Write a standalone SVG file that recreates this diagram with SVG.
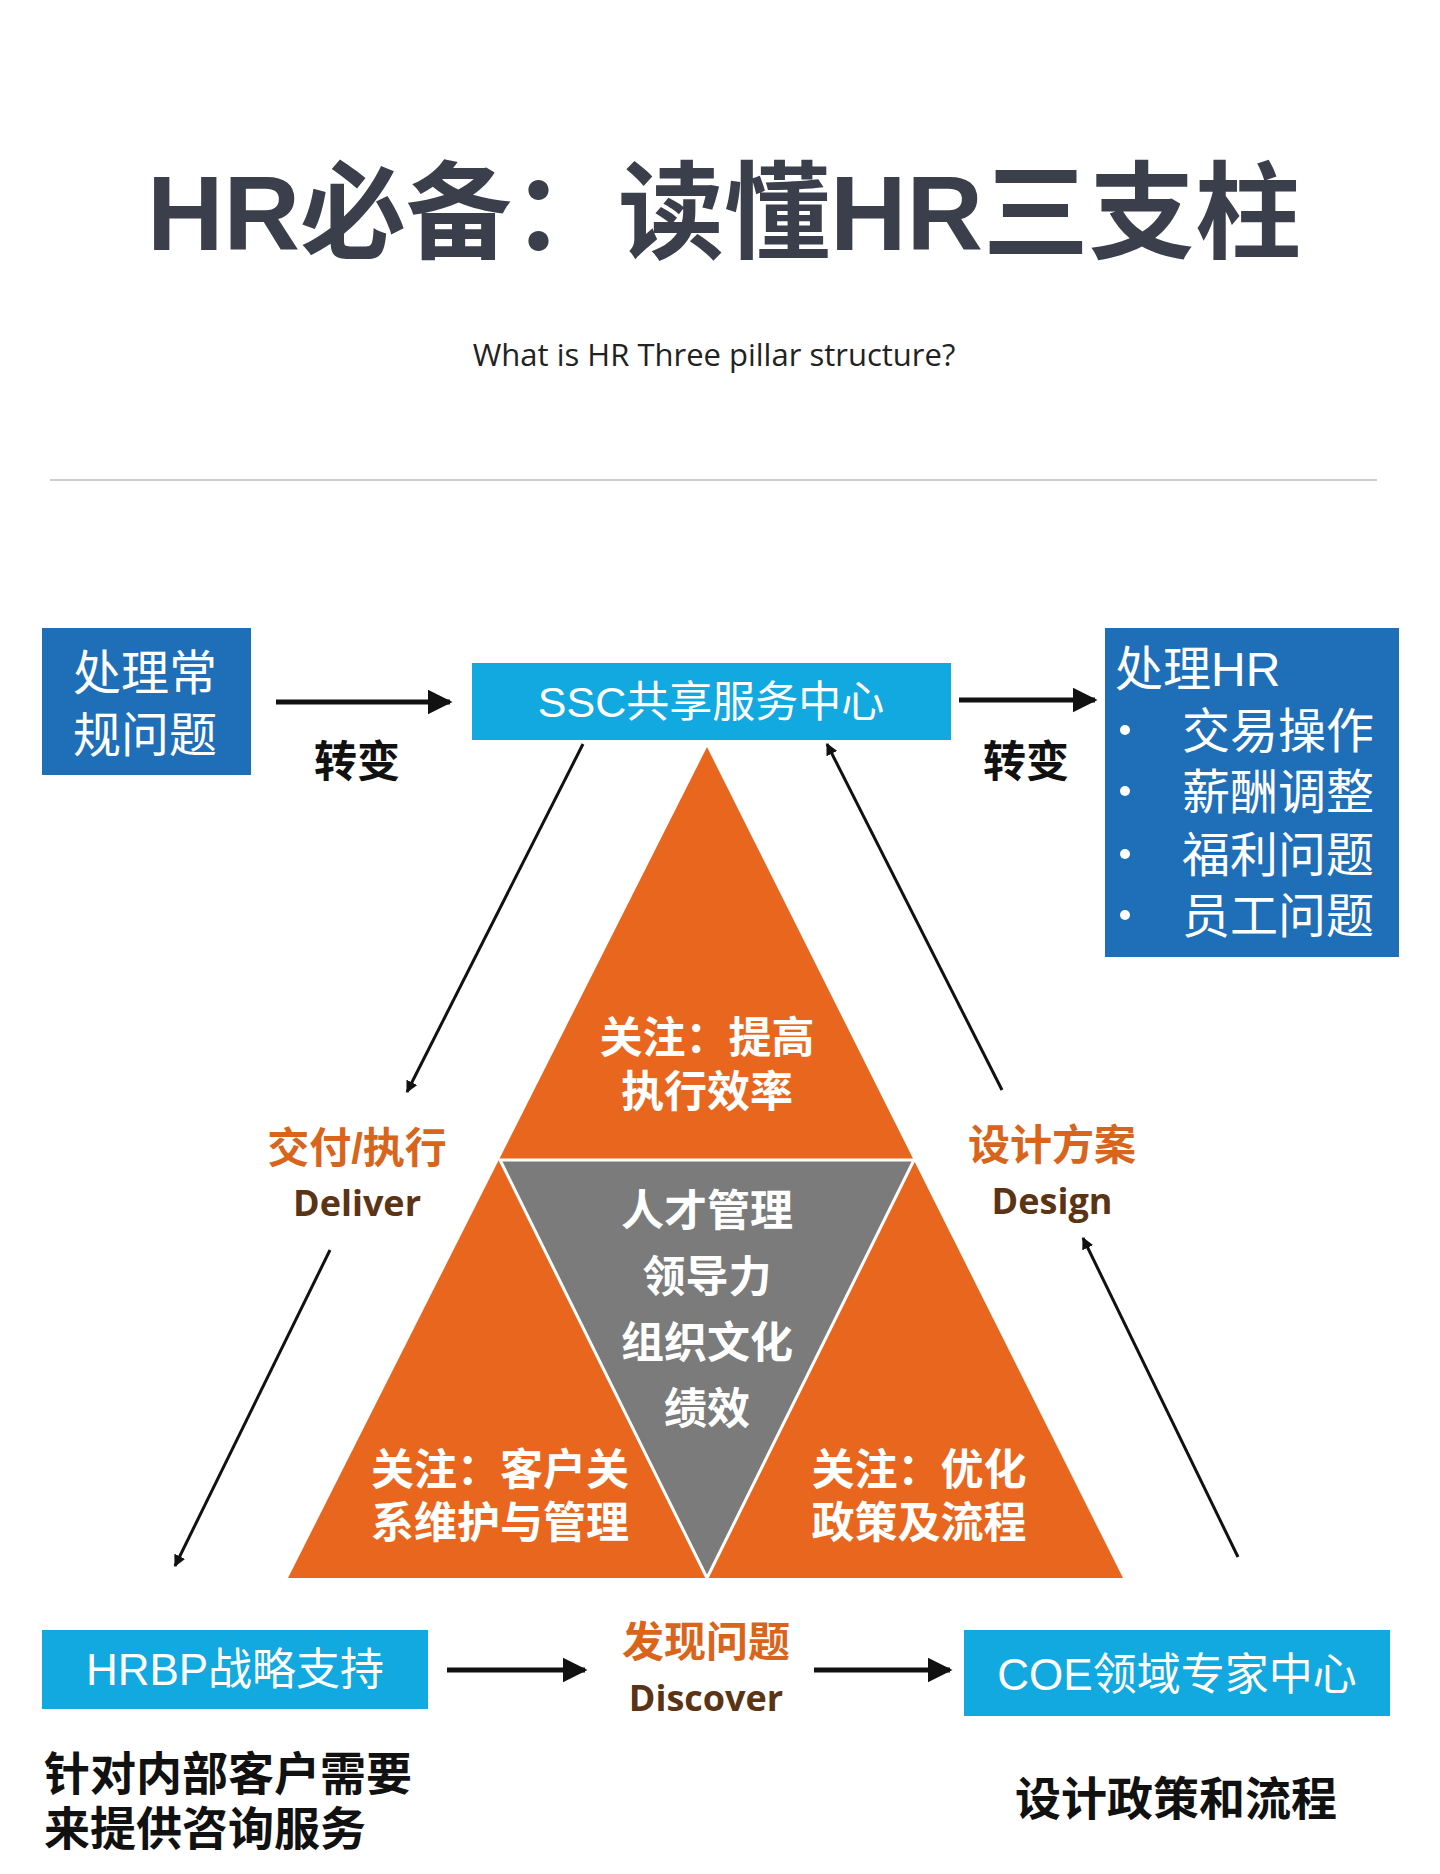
<svg xmlns="http://www.w3.org/2000/svg" width="1440" height="1874" viewBox="0 0 1440 1874">
<defs>
<style>
.cn{font-family:"Liberation Sans","Noto Sans CJK SC",sans-serif}
.w{fill:#fff;font-weight:bold}
.k{fill:#111;font-weight:bold}
.lab{fill:#d9641c;font-weight:bold}
.en{fill:#5a3415;font-weight:bold;font-family:"Open Sans","Liberation Sans",sans-serif}
.ln{stroke:#111;stroke-width:3;fill:none}
.al{stroke:#111;stroke-width:5;fill:none}
</style>
<marker id="ah" viewBox="0 0 10 10" refX="9" refY="5" markerWidth="5" markerHeight="5" orient="auto"><path d="M0,0L10,5L0,10z" fill="#111"/></marker>
<marker id="as" viewBox="0 0 10 10" refX="9" refY="5" markerWidth="4" markerHeight="4" orient="auto"><path d="M0,0L10,5L0,10z" fill="#111"/></marker>
</defs>
<rect width="1440" height="1874" fill="#fff"/>
<text x="724" y="250" text-anchor="middle" class="cn" font-size="106" font-weight="bold" fill="#3a3f4b">HR必备：读懂HR三支柱</text>
<text x="714" y="366" text-anchor="middle" font-family="Open Sans,sans-serif" font-size="31" fill="#222">What is HR Three pillar structure?</text>
<line x1="50" y1="480" x2="1377" y2="480" stroke="#ccc" stroke-width="2"/>
<g id="pyramid">
<polygon points="707,747 1123,1578 288,1578" fill="#e8661e"/>
<polygon points="500,1160 914,1160 707,1578" fill="#7b7b7b" stroke="#fff" stroke-width="3"/>
<g class="cn w" font-size="43" text-anchor="middle">
<text x="707" y="1053">关注：提高</text><text x="707" y="1107">执行效率</text>
<text x="707" y="1226">人才管理</text><text x="707" y="1292">领导力</text><text x="707" y="1358">组织文化</text><text x="707" y="1424">绩效</text>
<text x="500" y="1485">关注：客户关</text><text x="500" y="1538">系维护与管理</text>
<text x="919" y="1485">关注：优化</text><text x="919" y="1538">政策及流程</text>
</g>
</g>
<g id="n-left">
<rect x="42" y="628" width="209" height="147" fill="#1f6fb8"/>
<text x="145" y="690" text-anchor="middle" class="cn" font-size="48" fill="#fff">处理常</text>
<text x="145" y="752" text-anchor="middle" class="cn" font-size="48" fill="#fff">规问题</text>
</g>
<g id="n-ssc">
<rect x="472" y="663" width="479" height="77" fill="#12a8e0"/>
<text x="711" y="717" text-anchor="middle" class="cn" font-size="43" fill="#fff">SSC共享服务中心</text>
</g>
<g id="n-right">
<rect x="1105" y="628" width="294" height="329" fill="#1f6fb8"/>
<g class="cn" font-size="48" fill="#fff">
<text x="1115" y="686">处理HR</text>
<text x="1182" y="748">交易操作</text><text x="1182" y="809">薪酬调整</text><text x="1182" y="872">福利问题</text><text x="1182" y="933">员工问题</text>
</g>
<g fill="#fff"><circle cx="1125" cy="730" r="5"/><circle cx="1125" cy="791" r="5"/><circle cx="1125" cy="854" r="5"/><circle cx="1125" cy="915" r="5"/></g>
</g>
<g id="n-hrbp">
<rect x="42" y="1630" width="386" height="79" fill="#12a8e0"/>
<text x="235" y="1685" text-anchor="middle" class="cn" font-size="44" fill="#fff">HRBP战略支持</text>
</g>
<g id="n-coe">
<rect x="964" y="1630" width="426" height="86" fill="#12a8e0"/>
<text x="1177" y="1690" text-anchor="middle" class="cn" font-size="44" fill="#fff">COE领域专家中心</text>
</g>
<g id="labels">
<g class="cn k" font-size="43" text-anchor="middle"><text x="357" y="777">转变</text><text x="1026" y="777">转变</text></g>
<g class="cn lab" font-size="42" text-anchor="middle"><text x="357" y="1163">交付/执行</text><text x="1052" y="1160">设计方案</text><text x="706" y="1657">发现问题</text></g>
<g class="en" font-size="36" text-anchor="middle"><text x="357" y="1216">Deliver</text><text x="1052" y="1214">Design</text><text x="706" y="1711">Discover</text></g>
<g class="cn k" font-size="46"><text x="44" y="1790">针对内部客户需要</text><text x="44" y="1845">来提供咨询服务</text>
<text x="1176" y="1815" text-anchor="middle">设计政策和流程</text></g>
</g>
<g id="connectors">
<line x1="276" y1="702" x2="450" y2="702" class="al" marker-end="url(#ah)"/>
<line x1="959" y1="700" x2="1095" y2="700" class="al" marker-end="url(#ah)"/>
<line x1="447" y1="1670" x2="585" y2="1670" class="al" marker-end="url(#ah)"/>
<line x1="814" y1="1670" x2="950" y2="1670" class="al" marker-end="url(#ah)"/>
<line x1="583" y1="744" x2="407" y2="1092" class="ln" marker-end="url(#as)"/>
<line x1="330" y1="1250" x2="175" y2="1566" class="ln" marker-end="url(#as)"/>
<line x1="1002" y1="1090" x2="827" y2="744" class="ln" marker-end="url(#as)"/>
<line x1="1238" y1="1557" x2="1083" y2="1238" class="ln" marker-end="url(#as)"/>
</g>
</svg>
